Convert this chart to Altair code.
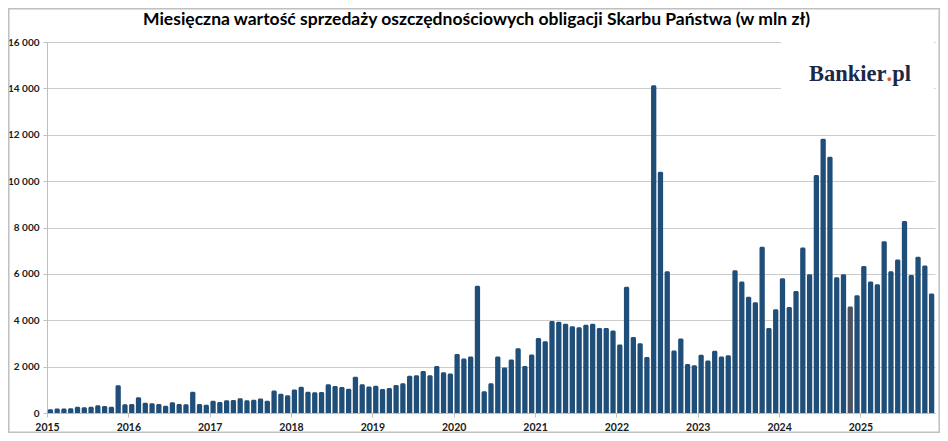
import altair as alt
import pandas as pd

TITLE = "Miesięczna wartość sprzedaży oszczędnościowych obligacji Skarbu Państwa (w mln zł)"
LOGO_A, LOGO_DOT, LOGO_B = "Bankier", ".", "pl"

first_year = 2015
values_2015 = [160, 190, 190, 200, 270, 245, 270, 330, 300, 270, 1200, 375]
values_2016 = [390, 680, 445, 420, 390, 315, 460, 390, 375, 920, 390, 360]
values_2017 = [530, 475, 545, 560, 635, 545, 575, 620, 530, 965, 835, 765]
values_2018 = [1015, 1130, 915, 890, 910, 1240, 1165, 1125, 1050, 1565, 1245, 1140]
values_2019 = [1170, 1040, 1080, 1210, 1280, 1610, 1630, 1815, 1630, 2030, 1760, 1700]
values_2020 = [2540, 2350, 2435, 5490, 940, 1280, 2435, 1960, 2305, 2795, 2030, 2520]
values_2021 = [3235, 3095, 3970, 3930, 3850, 3740, 3700, 3810, 3850, 3670, 3670, 3555]
values_2022 = [2950, 5440, 3280, 3010, 2420, 14140, 10400, 6115, 2700, 3210, 2115, 2060]
values_2023 = [2510, 2260, 2680, 2440, 2490, 6160, 5670, 5010, 4780, 7170, 3670, 4475]
values_2024 = [5810, 4575, 5265, 7135, 5985, 10260, 11830, 11050, 5855, 5985, 4590, 5080]
values_2025 = [6345, 5670, 5555, 7410, 6115, 6620, 8285, 5955, 6735, 6360, 5150]

sales = (values_2015 + values_2016 + values_2017 + values_2018 + values_2019 +
         values_2020 + values_2021 + values_2022 + values_2023 + values_2024 + values_2025)
months = [f"{y}-{m:02d}" for y in range(2015, 2026) for m in range(1, 13)][:len(sales)]
highlight_months = ["2024-11"]

y_ticks = list(range(0, 16001, 2000))
year_ticks = list(range(0, 121, 12))

df = pd.DataFrame({"month": months, "value": sales})
df["idx"] = list(range(len(df)))
df["kind"] = ["wyróżniony" if m in highlight_months else "standard" for m in months]

BLUE = "#1f4e79"
GREY_BAR = "#4b5363"
AXIS_GREY = "#bfbfbf"
GRID_GREY = "#cccccc"
FONT = "Lato"

bars = alt.Chart(df).transform_calculate(
    x0="datum.idx + 0.11", x1="datum.idx + 0.89"
).mark_bar(cornerRadiusTopLeft=1.5, cornerRadiusTopRight=1.5).encode(
    x=alt.X("x0:Q",
            scale=alt.Scale(domain=[0, len(sales)], nice=False, zero=False),
            axis=alt.Axis(values=year_ticks, labelExpr=f"format({first_year} + datum.value/12, 'd')",
                          grid=False, title="", domainColor=AXIS_GREY, tickColor=AXIS_GREY,
                          tickSize=4, labelFont=FONT, labelFontSize=10.5, labelFontWeight="bold",
                          labelColor="#1a1a1a", labelPadding=5, labelAlign="center")),
    x2="x1:Q",
    y=alt.Y("value:Q",
            scale=alt.Scale(domain=[0, 16000], nice=False),
            axis=alt.Axis(values=y_ticks, labelExpr="replace(format(datum.value, ','), ',', ' ')",
                          grid=True, gridColor=GRID_GREY, title="", domainColor=AXIS_GREY,
                          tickColor=AXIS_GREY, tickSize=4, labelFont=FONT, labelFontSize=10,
                          labelFontWeight="bold", labelColor="#1a1a1a", labelPadding=4)),
    y2=alt.datum(0),
    color=alt.Color("kind:N", scale=alt.Scale(domain=["standard", "wyróżniony"],
                                              range=[BLUE, GREY_BAR]), legend=None),
    tooltip=["month:N", "value:Q"],
)

logo_box = alt.Chart(pd.DataFrame({"a": [0]})).mark_rect(color="white").encode(
    x=alt.value(734), x2=alt.value(887), y=alt.value(-8), y2=alt.value(58)
)

border = alt.Chart(pd.DataFrame({"a": [0]})).mark_rect(
    fillOpacity=0, stroke=AXIS_GREY, strokeWidth=1.5
).encode(x=alt.value(-38.2), x2=alt.value(892.2), y=alt.value(-33.2), y2=alt.value(390.2))

title = alt.Chart(pd.DataFrame({"t": [TITLE]})).mark_text(
    font=FONT, fontSize=17.5, fontWeight="bold", align="center", baseline="alphabetic", color="#000000"
).encode(text="t:N", x=alt.value(429.5), y=alt.value(-17))

logo_font = dict(font="Liberation Serif", fontSize=22.5, fontWeight="bold", baseline="alphabetic")
logo_a = alt.Chart(pd.DataFrame({"t": [LOGO_A]})).mark_text(
    align="right", color="#1b2847", **logo_font).encode(text="t:N", x=alt.value(839.6), y=alt.value(39))
logo_dot = alt.Chart(pd.DataFrame({"t": [LOGO_DOT]})).mark_text(
    align="center", color="#e8541c", **logo_font).encode(text="t:N", x=alt.value(842.4), y=alt.value(39))
logo_b = alt.Chart(pd.DataFrame({"t": [LOGO_B]})).mark_text(
    align="left", color="#1b2847", **logo_font).encode(text="t:N", x=alt.value(845.2), y=alt.value(39))

chart = alt.layer(border, bars, logo_box, title, logo_a, logo_dot, logo_b).properties(
    width=888, height=371,
    autosize=alt.AutoSizeParams(type="none"),
    padding={"left": 39, "top": 34, "right": 5, "bottom": 20},
    background="white",
).configure_view(strokeWidth=0)

chart.save("out.html", embed_options={"renderer": "svg", "actions": False})
